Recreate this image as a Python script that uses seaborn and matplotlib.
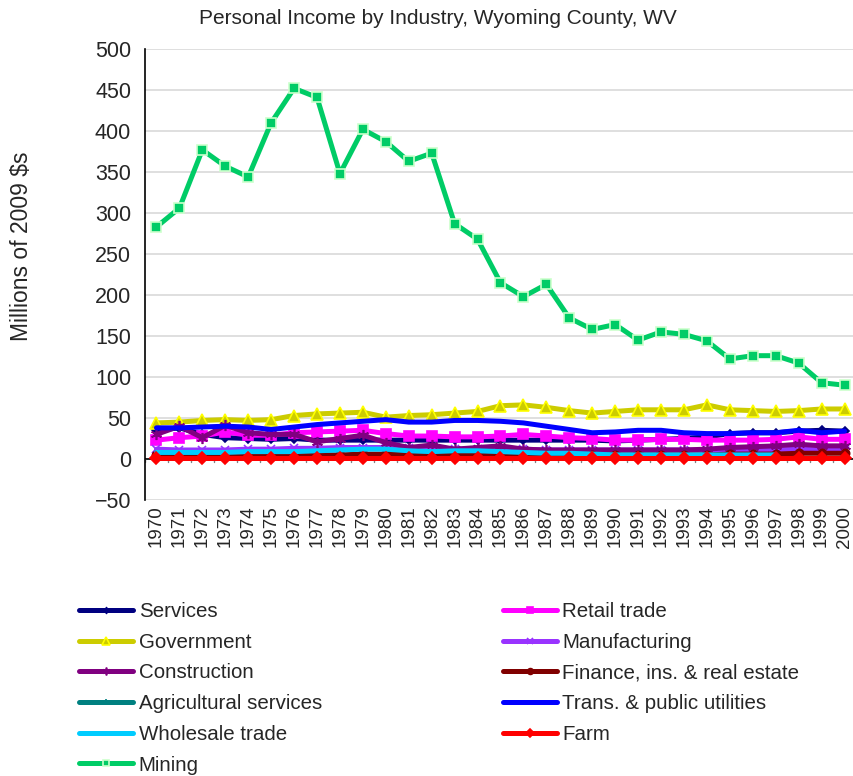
import numpy as np
import pandas as pd
import matplotlib
matplotlib.use("Agg")
import matplotlib.pyplot as plt
import seaborn as sns

# data (millions of 2009 $)
years = list(range(1970, 2001))

services = [35, 38, 30, 26, 25, 24, 25, 23, 23, 23, 23, 23, 23, 23, 23, 23, 23, 23, 23, 23,
            22, 23, 24, 25, 27, 31, 32, 32, 34, 35, 34]
retail = [23, 26, 28, 33, 29, 29, 32, 33, 34, 35, 31, 28, 28, 27, 27, 28, 30, 28, 26, 25,
          23, 23, 24, 24, 23, 23, 23, 24, 27, 24, 24]
government = [44, 45, 47, 48, 47, 48, 53, 55, 56, 57, 51, 53, 54, 56, 58, 65, 66, 63, 59, 56,
              58, 60, 60, 60, 66, 60, 59, 58, 59, 61, 61]
manufacturing = [12, 11, 11, 11, 12, 12, 13, 13, 14, 14, 14, 13, 12, 12, 12, 12, 12, 11, 11, 11,
                 11, 11, 11, 11, 11, 11, 11, 11, 12, 11, 11]
construction = [30, 40, 26, 41, 32, 30, 30, 21, 25, 29, 20, 14, 17, 12, 14, 16, 12, 11, 11, 11,
                11, 11, 11, 11, 12, 14, 15, 16, 18, 16, 16]
finance = [5, 5, 5, 5, 5, 5, 5, 5, 5, 6, 6, 6, 6, 5, 5, 5, 5, 5, 5, 5,
           5, 5, 5, 5, 5, 6, 6, 6, 7, 7, 7]
ag_services = [1, 1, 1, 1, 1, 1, 1, 1, 1, 1, 1, 1, 1, 1, 1, 1, 1, 1, 1, 1,
               1, 1, 1, 1, 1, 1, 1, 1, 1, 1, 1]
trans = [38, 38, 39, 40, 39, 36, 39, 42, 44, 46, 48, 45, 45, 47, 47, 46, 44, 40, 36, 32,
         33, 35, 35, 32, 31, 31, 32, 32, 35, 32, 34]
wholesale = [8, 8, 8, 8, 9, 9, 9, 10, 11, 12, 12, 10, 9, 10, 10, 9, 8, 7, 7, 6,
             5, 5, 5, 5, 5, 5, 5, 5, np.nan, np.nan, np.nan]
farm = [1, 1, 1, 1, 1, 1, 1, 1, 1, 1, 1, 1, 1, 1, 1, 1, 1, 1, 1, 1,
        1, 1, 1, 1, 1, 1, 1, 1, 1, 1, 1]
mining = [283, 306, 377, 357, 344, 410, 452, 441, 348, 402, 387, 363, 373, 287, 268, 215, 198, 213,
          172, 158, 164, 145, 155, 152, 144, 122, 126, 126, 117, 93, 90]

# name, values, line colour, marker, marker face, marker edge, marker size
series = [
    ("Services", services, "#000080", "D", "#000080", "#000080", 4),
    ("Retail trade", retail, "#FF00FF", "s", "#FF00FF", "#FF00FF", 7),
    ("Government", government, "#CCCC00", "^", "#CCCC00", "#FFFF00", 8),
    ("Manufacturing", manufacturing, "#9933FF", "x", "#9933FF", "#9933FF", 6),
    ("Construction", construction, "#800080", (6, 2, 0), "#800080", "#800080", 8),
    ("Finance, ins. & real estate", finance, "#800000", "o", "#800000", "#800000", 6),
    ("Agricultural services", ag_services, "#008080", "+", "#008080", "#008080", 6),
    ("Trans. & public utilities", trans, "#0000FF", None, None, None, 0),
    ("Wholesale trade", wholesale, "#00CCFF", None, None, None, 0),
    ("Farm", farm, "#FF0000", "D", "#FF0000", "#FF0000", 6),
    ("Mining", mining, "#00CC66", "s", "#00CC66", "#CCFFCC", 7),
]

sns.set_style("white")
plt.rcParams["font.family"] = ["Liberation Sans", "DejaVu Sans"]

fig = plt.figure(figsize=(8.54, 7.76), dpi=100)
ax = fig.add_axes([145 / 854, 276 / 776, 711 / 854, 451 / 776])

handles = {}
for name, vals, col, mk, mfc, mec, ms in series:
    df = pd.DataFrame({"year": years, "value": vals})
    sns.lineplot(data=df, x="year", y="value", ax=ax, color=col, linewidth=3.6,
                 marker=mk, markersize=ms, markerfacecolor=mfc, markeredgecolor=mec,
                 markeredgewidth=1.2, label=name, legend=False)
    handles[name] = ax.lines[-1]

ax.set_xlim(1969.5, 2000.5)
ax.set_ylim(-50, 500)
ax.set_yticks(range(-50, 501, 50))
ax.set_xticks(years)
ax.set_xticklabels([str(y) for y in years], rotation=90, fontsize=13.5)
ax.tick_params(axis="y", labelsize=15.5, length=4, color="#808080", pad=6)
ax.tick_params(axis="x", length=0, pad=4)
ax.grid(axis="y", color="#d9d9d9", linewidth=1.2)
ax.set_axisbelow(True)
for s in ["top", "right", "bottom"]:
    ax.spines[s].set_visible(False)
ax.spines["left"].set_color("black")
ax.spines["left"].set_linewidth(1.2)
# category axis crossing at zero, ticks between years
ax.axhline(0, color="black", linewidth=1.2, zorder=1)
for b in np.arange(1969.5, 2001, 1):
    ax.plot([b, b], [0, -4], color="#808080", linewidth=1, zorder=1)

ax.set_xlabel("")
ax.set_ylabel("")
fig.text(22 / 854, 1 - 246 / 776, "Millions of 2009 $s", rotation=90,
         ha="center", va="center", fontsize=16.5)
fig.text(438 / 854, 1 - 18 / 776, "Personal Income by Industry, Wyoming County, WV",
         ha="center", va="center", fontsize=15)

order = ["Services", "Government", "Construction", "Agricultural services", "Wholesale trade",
         "Mining", "Retail trade", "Manufacturing", "Finance, ins. & real estate",
         "Trans. & public utilities", "Farm"]
fig.legend([handles[n] for n in order], order, loc="upper left",
           bbox_to_anchor=(79 / 854, 1 - 602 / 776), ncol=2, frameon=False,
           fontsize=14.8, handlelength=2.65, handletextpad=0.25, labelspacing=0.57,
           columnspacing=8.8, borderaxespad=0, borderpad=0, markerscale=0.7)

fig.savefig("out.png", dpi=100)
